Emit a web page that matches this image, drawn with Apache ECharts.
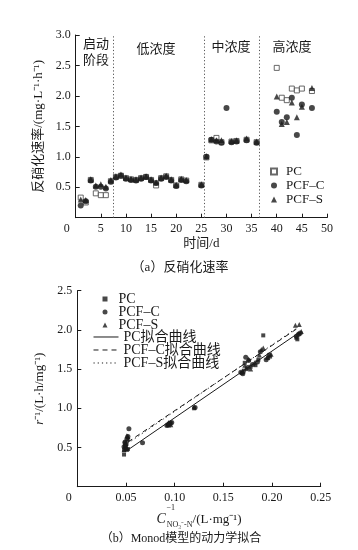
<!DOCTYPE html>
<html><head><meta charset="utf-8">
<script src="https://cdn.jsdelivr.net/npm/echarts/dist/echarts.min.js"></script>
<style>html,body{margin:0;padding:0;background:#fff}#c{width:358px;height:550px}</style>
</head><body><div id="c"></div>
<script>
// ---------- (a) denitrification rate vs time ----------
const days = [1,2,3,4,5,6,7,8,9,10,11,12,13,14,15,16,17,18,19,20,21,22,25,26,27,28,29,30,31,32,34,36,40,41,42,43,44,45,47];
const pcRate   = [0.33,0.25,0.62,0.40,0.37,0.37,0.60,0.67,0.69,0.65,0.63,0.62,0.65,0.67,0.62,0.53,0.65,0.68,0.62,0.53,0.63,0.61,0.54,0.99,1.27,1.31,1.24,null,1.25,1.26,1.28,1.24,2.46,1.97,1.93,2.12,2.09,2.12,2.08];
const pcfcRate = [0.20,0.27,0.61,0.51,0.51,0.48,0.59,0.66,0.69,0.64,0.62,0.61,0.64,0.67,0.61,0.57,0.64,0.67,0.61,0.52,0.62,0.60,0.53,1.00,1.28,1.25,1.23,1.80,1.24,1.25,1.27,1.23,1.74,1.57,1.65,1.97,1.36,1.86,1.80];
const pcfsRate = [0.30,0.29,0.63,0.53,0.55,0.51,0.62,0.68,0.71,0.66,0.64,0.63,0.66,0.68,0.63,0.58,0.66,0.69,0.63,0.54,0.64,0.62,0.55,1.01,1.29,1.27,1.27,null,1.26,1.27,1.30,1.25,1.99,1.54,1.57,1.89,1.65,1.82,2.13];
const phaseDividers = [7.4, 25.5, 36.5];
const phaseNames = ['启动\n阶段', '低浓度', '中浓度', '高浓度'];
const seriesNamesA = ['PC', 'PCF–C', 'PCF–S'];

// ---------- (b) Monod kinetic fitting ----------
const pcInv = [[0.048,0.41],[0.050,0.51],[0.049,0.52],[0.051,0.47],[0.052,0.48],[0.048,0.47],[0.050,0.48],
  [0.093,0.79],[0.095,0.80],[0.096,0.81],[0.094,0.78],[0.120,1.00],
  [0.169,1.45],[0.171,1.48],[0.174,1.50],[0.178,1.53],[0.183,1.55],[0.186,1.62],[0.191,1.93],[0.196,1.64],[0.198,1.66],[0.172,1.58],
  [0.225,1.90],[0.228,1.95],[0.226,1.88]];
const pcfcInv = [[0.049,0.57],[0.052,0.64],[0.051,0.61],[0.048,0.51],[0.053,0.74],[0.050,0.54],[0.049,0.56],[0.067,0.56],
  [0.092,0.78],[0.094,0.80],[0.097,0.82],[0.095,0.81],[0.121,1.01],
  [0.168,1.46],[0.170,1.44],[0.173,1.65],[0.175,1.52],[0.180,1.56],[0.185,1.59],[0.188,1.72],[0.194,1.62],[0.197,1.68],[0.176,1.61],
  [0.227,1.94],[0.229,1.96],[0.225,1.92]];
const pcfsInv = [[0.050,0.50],[0.051,0.65],[0.052,0.64],[0.049,0.53],[0.052,0.61],[0.050,0.55],[0.048,0.47],
  [0.093,0.80],[0.096,0.79],[0.094,0.82],[0.120,1.02],
  [0.170,1.47],[0.172,1.55],[0.176,1.63],[0.182,1.58],[0.187,1.68],[0.189,1.75],[0.191,1.77],[0.195,1.65],[0.199,1.69],[0.178,1.50],
  [0.224,2.06],[0.228,2.07],[0.230,1.98]];
const pcFit   = [[0.052,0.47],[0.227,1.96]];
const pcfcFit = [[0.052,0.57],[0.225,2.01]];
const pcfsFit = [[0.052,0.555],[0.225,2.02]];
const pointNamesB = ['PC', 'PCF–C', 'PCF–S'];
const fitNamesB = ['PC拟合曲线', 'PCF–C拟合曲线', 'PCF–S拟合曲线'];

const FONT = "'Liberation Serif', 'Noto Sans CJK SC', serif";
const INK = '#1a1a1a';

function pairs(xs, ys) {
  const out = [];
  xs.forEach((x, i) => { if (ys[i] !== null) out.push([x, ys[i]]); });
  return out;
}

function axisBase(extra) {
  return Object.assign({
    axisLine: { show: true, lineStyle: { color: INK, width: 1 } },
    axisTick: { show: true, inside: true, length: 4, lineStyle: { color: INK } },
    splitLine: { show: false },
    nameTextStyle: { color: INK, fontFamily: FONT, fontSize: 13 }
  }, extra);
}

function zeroShift(pad, fmt) {
  return {
    color: INK, fontFamily: FONT, fontSize: 12, margin: 5,
    formatter: v => v === 0 ? '{o|0}' : fmt(v),
    rich: { o: { padding: [0, pad, 0, 0], fontFamily: FONT, fontSize: 12, color: INK } }
  };
}

const chart = echarts.init(document.getElementById('c'), null, { renderer: 'canvas' });

const bKey = n => n + '_b';
const stripKey = n => n.replace(/_b$/, '');

const option = {
  backgroundColor: '#fff',
  animation: false,
  textStyle: { fontFamily: FONT, color: INK },
  grid: [
    { left: 75.7, top: 35, width: 251.3, height: 182.7 },
    { left: 77.3, top: 290.7, width: 243.4, height: 196 }
  ],
  xAxis: [
    axisBase({ gridIndex: 0, type: 'value', min: 0, max: 50, interval: 5,
      name: '时间/d', nameLocation: 'middle', nameGap: 19,
      axisLabel: zeroShift(18, v => String(v)) }),
    axisBase({ gridIndex: 1, type: 'value', min: 0, max: 0.25, interval: 0.05,
      name: '{c|C}{sub|NO₃⁻-N}/(L·mg⁻¹)', nameLocation: 'middle', nameGap: 24,
      nameTextStyle: { color: INK, fontFamily: FONT, fontSize: 13,
        rich: {
          c: { fontStyle: 'italic', fontFamily: FONT, fontSize: 14, color: INK, lineHeight: 18 },
          sub: { fontFamily: FONT, fontSize: 8, color: INK, verticalAlign: 'bottom', lineHeight: 12, padding: [6, 0, 0, 1] }
        } },
      axisLabel: zeroShift(17, v => v.toFixed(2)) })
  ],
  yAxis: [
    axisBase({ gridIndex: 0, type: 'value', min: 0, max: 3, interval: 0.5,
      name: '反硝化速率/(mg·L⁻¹·h⁻¹)', nameLocation: 'middle', nameGap: 27, nameRotate: 90,
      axisLabel: { color: INK, fontFamily: FONT, fontSize: 12, margin: 5, showMinLabel: false, formatter: v => v.toFixed(1) } }),
    axisBase({ gridIndex: 1, type: 'value', min: 0, max: 2.5, interval: 0.5,
      name: '{i|r}⁻¹/(L·h/mg⁻¹)', nameLocation: 'middle', nameGap: 24, nameRotate: 90,
      nameTextStyle: { color: INK, fontFamily: FONT, fontSize: 13,
        rich: { i: { fontStyle: 'italic', fontFamily: FONT, fontSize: 13, color: INK } } },
      axisLabel: { color: INK, fontFamily: FONT, fontSize: 12, margin: 5, showMinLabel: false, formatter: v => v.toFixed(1) } })
  ],
  legend: [
    { data: seriesNamesA, orient: 'vertical', left: 270, top: 165, padding: 0, itemWidth: 6, itemHeight: 6, itemGap: 1,
      textStyle: { fontFamily: FONT, fontSize: 13, color: INK, padding: [0, 0, 0, 4] }, selectedMode: false },
    { data: pointNamesB.map(bKey), orient: 'vertical', left: 102.5, top: 292, padding: 0, itemWidth: 5, itemHeight: 5, itemGap: -1,
      formatter: stripKey,
      textStyle: { fontFamily: FONT, fontSize: 14, color: INK, padding: [0, 0, 0, 6] }, selectedMode: false },
    { data: fitNamesB.map(bKey), orient: 'vertical', left: 93, top: 330, padding: 0, itemWidth: 25, itemHeight: 6, itemGap: -1,
      formatter: stripKey, itemStyle: { opacity: 0 }, lineStyle: { width: 1 },
      textStyle: { fontFamily: FONT, fontSize: 14, color: INK }, selectedMode: false }
  ],
  series: [
    { name: seriesNamesA[0], type: 'scatter', xAxisIndex: 0, yAxisIndex: 0, data: pairs(days, pcRate),
      symbol: 'rect', symbolSize: 5, itemStyle: { color: '#fff', borderColor: '#444', borderWidth: 1 },
      markLine: { silent: true, symbol: 'none', label: { show: false },
        lineStyle: { type: [1.2, 2.2], color: '#555', width: 1 },
        data: phaseDividers.map(v => ({ xAxis: v })) } },
    { name: seriesNamesA[1], type: 'scatter', xAxisIndex: 0, yAxisIndex: 0, data: pairs(days, pcfcRate),
      symbol: 'circle', symbolSize: 6, itemStyle: { color: INK } },
    { name: seriesNamesA[2], type: 'scatter', xAxisIndex: 0, yAxisIndex: 0, data: pairs(days, pcfsRate),
      symbol: 'triangle', symbolSize: 6, itemStyle: { color: INK } },

    { name: bKey(pointNamesB[0]), type: 'scatter', xAxisIndex: 1, yAxisIndex: 1, data: pcInv,
      symbol: 'rect', symbolSize: 4, itemStyle: { color: INK } },
    { name: bKey(pointNamesB[1]), type: 'scatter', xAxisIndex: 1, yAxisIndex: 1, data: pcfcInv,
      symbol: 'circle', symbolSize: 5, itemStyle: { color: INK } },
    { name: bKey(pointNamesB[2]), type: 'scatter', xAxisIndex: 1, yAxisIndex: 1, data: pcfsInv,
      symbol: 'triangle', symbolSize: 5, itemStyle: { color: INK } },
    { name: bKey(fitNamesB[0]), type: 'line', xAxisIndex: 1, yAxisIndex: 1, data: pcFit,
      symbol: 'none', lineStyle: { color: INK, width: 1, type: 'solid' }, itemStyle: { color: INK } },
    { name: bKey(fitNamesB[1]), type: 'line', xAxisIndex: 1, yAxisIndex: 1, data: pcfcFit,
      symbol: 'none', lineStyle: { color: INK, width: 1, type: [5, 4] }, itemStyle: { color: INK } },
    { name: bKey(fitNamesB[2]), type: 'line', xAxisIndex: 1, yAxisIndex: 1, data: pcfsFit,
      symbol: 'none', lineStyle: { color: INK, width: 1, type: [1.2, 3] }, itemStyle: { color: INK } }
  ],
  graphic: [
    { type: 'text', left: 83, top: 37, style: { text: phaseNames[0], font: '13px ' + FONT, fill: INK, lineHeight: 16, align: 'center' } },
    { type: 'text', x: 156, y: 50, style: { text: phaseNames[1], font: '13px ' + FONT, fill: INK, textAlign: 'center', textVerticalAlign: 'middle' } },
    { type: 'text', x: 231, y: 48, style: { text: phaseNames[2], font: '13px ' + FONT, fill: INK, textAlign: 'center', textVerticalAlign: 'middle' } },
    { type: 'text', x: 292, y: 48, style: { text: phaseNames[3], font: '13px ' + FONT, fill: INK, textAlign: 'center', textVerticalAlign: 'middle' } },
    { type: 'text', x: 166.5, y: 508, style: { text: '−1', font: '8px ' + FONT, fill: INK, textAlign: 'left', textVerticalAlign: 'middle' } },
    { type: 'text', x: 180, y: 268, style: { text: '（a）反硝化速率', font: '13px ' + FONT, fill: INK, textAlign: 'center', textVerticalAlign: 'middle' } },
    { type: 'text', x: 181, y: 539, style: { text: '（b）Monod模型的动力学拟合', font: '12px ' + FONT, fill: INK, textAlign: 'center', textVerticalAlign: 'middle' } }
  ]
};
chart.setOption(option);
</script>
</body></html>
